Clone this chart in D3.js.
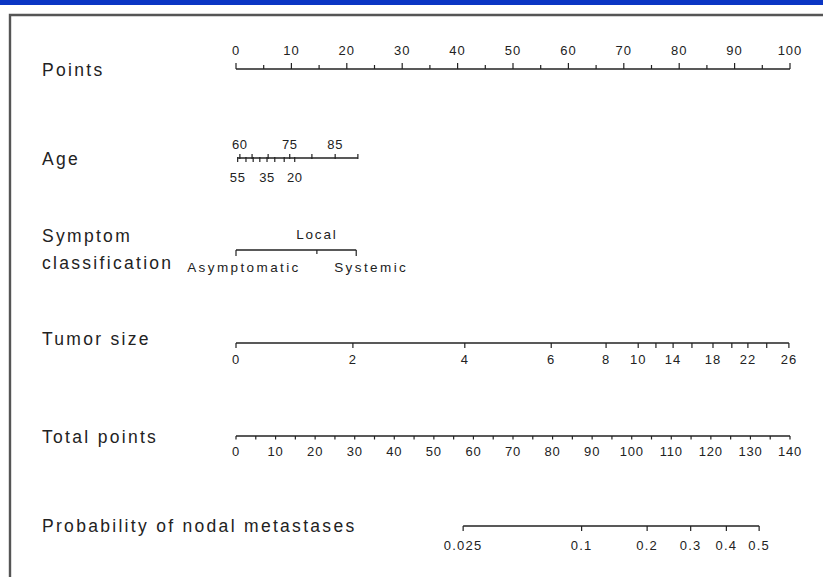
<!DOCTYPE html>
<html><head><meta charset="utf-8">
<script src="https://cdn.jsdelivr.net/npm/d3@7"></script>
<style>
html,body{margin:0;padding:0;background:#fff;}
svg{display:block;}
</style></head>
<body><svg id="chart" width="823" height="577"></svg>
<script>
// ---- data ----
const rowTitles = ["Points","Age","Symptom","classification","Tumor size","Total points","Probability of nodal metastases"];
const pointsTicks = [0,10,20,30,40,50,60,70,80,90,100];
const pointsMinor = [0,5,10,15,20,25,30,35,40,45,50,55,60,65,70,75,80,85,90,95,100];
const ageUpper = [60,65,70,75,80,85,90];
const ageUpperPts = [0.7,2.9,5.8,9.7,13.7,17.9,22.0];
const ageUpperLabels = [60,75,85];
const ageLower = [55,50,45,40,35,30,25,20];
const ageLowerPts = [0.3,1.8,3.1,4.3,5.6,7.0,8.7,10.6];
const ageLowerLabels = [55,35,20];
const symptomCats = ["Asymptomatic","Local","Systemic"];
const symptomPts = [0,14.6,21.7];
const tumorVals = [0,2,4,6,8,10,12,14,16,18,20,22,24,26];
const tumorPts = [0,21.1,41.3,56.9,66.8,72.6,75.8,78.9,82.3,86.1,89.5,92.4,95.8,99.8];
const tumorLabels = [0,2,4,6,8,10,14,18,22,26];
const totalTicks = [0,10,20,30,40,50,60,70,80,90,100,110,120,130,140];
const totalMinor = [0,5,10,15,20,25,30,35,40,45,50,55,60,65,70,75,80,85,90,95,100,105,110,115,120,125,130,135,140];
const probTicks = [0.025,0.1,0.2,0.3,0.4,0.5];
const probLabels = ["0.025","0.1","0.2","0.3","0.4","0.5"];
const probEndTotals = [57.4,132.2]; // total points at 0.025 and 0.5

// ---- drawing ----
const svg = d3.select("#chart");
const W = 823, H = 577;
const ink = "#222";
const x = d3.scaleLinear().domain([0,100]).range([236,790]);
const xt = d3.scaleLinear().domain([0,140]).range([236,790]);
const logit = p => Math.log(p/(1-p));
const probToTotal = d3.scaleLinear().domain([logit(0.025),logit(0.5)]).range(probEndTotals);
const xp = p => xt(probToTotal(logit(p)));

// frame
svg.append("rect").attr("x",0).attr("y",0).attr("width",W).attr("height",5).attr("fill","#0b36c4");
svg.append("path").attr("d",`M10,${H} V15 H${W}`).attr("fill","none").attr("stroke","#555").attr("stroke-width",2.4);

const titleFont = "'Liberation Sans', Arial, sans-serif";
function title(t, y){
  svg.append("text").attr("x",42).attr("y",y).text(t)
    .attr("font-family",titleFont).attr("font-size",17.5).attr("letter-spacing",2.3)
    .attr("fill",ink).attr("dominant-baseline","middle");
}
function label(t, xx, y, opts={}){
  return svg.append("text").attr("x",xx).attr("y",y).text(t)
    .attr("font-family",titleFont).attr("font-size",opts.size||13)
    .attr("letter-spacing",opts.ls!==undefined?opts.ls:1.0)
    .attr("text-anchor",opts.anchor||"middle").attr("fill",ink)
    .attr("dominant-baseline","middle");
}
function hline(x1,x2,y){
  svg.append("line").attr("x1",x1).attr("x2",x2).attr("y1",y).attr("y2",y)
    .attr("stroke",ink).attr("stroke-width",1.5);
}
function tick(xx,y1,y2,w){
  svg.append("line").attr("x1",xx).attr("x2",xx).attr("y1",y1).attr("y2",y2)
    .attr("stroke",ink).attr("stroke-width",w||1.2);
}

// Points
title(rowTitles[0], 71);
{
  const y=69;
  hline(x(0),x(100),y);
  pointsMinor.forEach(v=>tick(x(v),y,y-(v%10===0?6:4)));
  pointsTicks.forEach(v=>label(v,x(v),52));
}

// Age
title(rowTitles[1], 160);
{
  const y=158;
  hline(x(d3.min(ageLowerPts.concat(ageUpperPts))),x(d3.max(ageUpperPts)),y);
  ageUpper.forEach((a,i)=>tick(x(ageUpperPts[i]),y-4,y+1));
  ageLower.forEach((a,i)=>tick(x(ageLowerPts[i]),y-1,y+4));
  ageUpper.forEach((a,i)=>{ if(ageUpperLabels.includes(a)) label(a,x(ageUpperPts[i]),146,{ls:0.6}); });
  ageLower.forEach((a,i)=>{ if(ageLowerLabels.includes(a)) label(a,x(ageLowerPts[i]),179,{ls:0.6}); });
}

// Symptom classification
title(rowTitles[2], 237);
title(rowTitles[3], 264);
{
  const y=250;
  hline(x(symptomPts[0]),x(symptomPts[2]),y);
  tick(x(symptomPts[0]),y,y+6);
  tick(x(symptomPts[1]),y,y+4);
  tick(x(symptomPts[2]),y,y+6);
  label(symptomCats[1],x(symptomPts[1]),235,{size:13.5,ls:1.8});
  label(symptomCats[0],x(symptomPts[0])+8,268,{size:13.5,ls:2.4});
  label(symptomCats[2],x(symptomPts[2])+15,268,{size:13.5,ls:2.4});
}

// Tumor size
title(rowTitles[4], 340);
{
  const y=343;
  hline(x(0),x(tumorPts[tumorPts.length-1]),y);
  tumorVals.forEach((v,i)=>tick(x(tumorPts[i]),y,y+5));
  tumorVals.forEach((v,i)=>{ if(tumorLabels.includes(v)) label(v,x(tumorPts[i]),361); });
}

// Total points
title(rowTitles[5], 438);
{
  const y=436;
  hline(xt(0),xt(140),y);
  totalMinor.forEach(v=>tick(xt(v),y,y+3.5));
  totalTicks.forEach(v=>label(v,xt(v),453,{ls:0.8}));
}

// Probability
title(rowTitles[6], 527);
{
  const y=526;
  hline(xp(probTicks[0]),xp(probTicks[probTicks.length-1]),y);
  probTicks.forEach(p=>tick(xp(p),y,y+5));
  probTicks.forEach((p,i)=>label(probLabels[i],xp(p),547,{ls:1.2}));
}
</script></body></html>
